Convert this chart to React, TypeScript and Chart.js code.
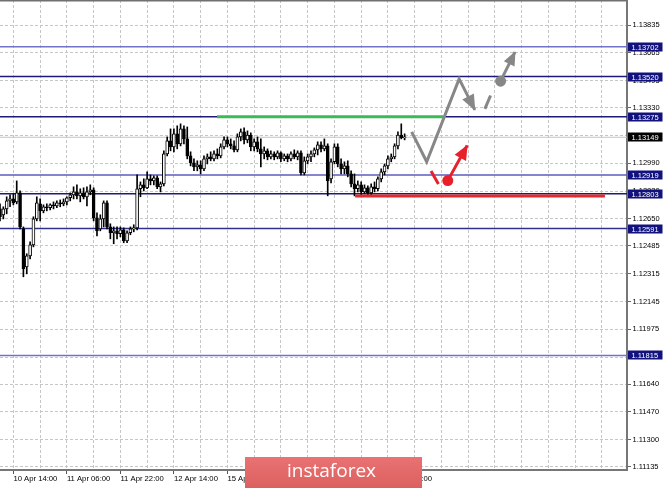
import React, { useEffect, useRef } from 'react';
import { Chart, registerables } from 'chart.js';

Chart.register(...registerables);

// ---- Candles (H1), oldest first ----
const OPEN = [
  1.12711, 1.12675, 1.12711, 1.1276, 1.12772, 1.12754, 1.12809, 1.12589, 1.12357, 1.12424,
  1.12491, 1.1265, 1.12742, 1.12699, 1.12724, 1.12718, 1.12736, 1.1273, 1.12748, 1.12742,
  1.12754, 1.12779, 1.12797, 1.12815, 1.12791, 1.12809, 1.12785, 1.12815, 1.12827, 1.12656,
  1.12589, 1.1265, 1.12748, 1.12601, 1.12565, 1.12577, 1.12559, 1.12583, 1.12516, 1.12565,
  1.12589, 1.12595, 1.12834, 1.12858, 1.1284, 1.12895, 1.12882, 1.12901, 1.12846, 1.12864,
  1.13047, 1.13127, 1.1309, 1.1317, 1.13109, 1.132, 1.13139, 1.13035, 1.12992, 1.12968,
  1.1298, 1.12956, 1.13017, 1.13029, 1.13017, 1.13047, 1.13035, 1.1309, 1.13133, 1.13109,
  1.13096, 1.13072, 1.13151, 1.13182, 1.13133, 1.13163, 1.1309, 1.13121, 1.13078, 1.13047,
  1.13066, 1.13029, 1.13047, 1.13029, 1.13054, 1.13017, 1.13035, 1.13017, 1.13047, 1.13029,
  1.13054, 1.12931, 1.13005, 1.13029, 1.13047, 1.13072, 1.13102, 1.13078, 1.13096, 1.12895,
  1.12999, 1.1309, 1.12986, 1.12956, 1.12974, 1.12925, 1.12864, 1.12834, 1.12858, 1.12815,
  1.1284, 1.12809, 1.12846, 1.12834, 1.12895, 1.12937, 1.12974, 1.13017, 1.13029, 1.13096,
  1.13163, 1.13145,
];
const HIGH = [
  1.12742, 1.12724, 1.12785, 1.12797, 1.12803, 1.12882, 1.12821, 1.12601, 1.12437, 1.1251,
  1.12663, 1.12785, 1.12772, 1.12736, 1.12742, 1.12742, 1.12754, 1.1276, 1.12766, 1.12772,
  1.12785, 1.12809, 1.12846, 1.12858, 1.12834, 1.1284, 1.12846, 1.12858, 1.1284, 1.12687,
  1.12675, 1.1276, 1.1276, 1.1262, 1.12601, 1.12601, 1.12601, 1.12595, 1.12577, 1.12601,
  1.12614, 1.12919, 1.12876, 1.12895, 1.12937, 1.12919, 1.12913, 1.12913, 1.12876, 1.13066,
  1.13151, 1.132, 1.132, 1.13219, 1.13231, 1.13219, 1.13212, 1.1306, 1.13017, 1.13005,
  1.13005, 1.13035, 1.13047, 1.1306, 1.13066, 1.13078, 1.13109, 1.13151, 1.13151, 1.13139,
  1.13127, 1.1317, 1.132, 1.13206, 1.13188, 1.13176, 1.13139, 1.13151, 1.13139, 1.1309,
  1.13078, 1.13066, 1.1306, 1.13066, 1.1306, 1.13047, 1.13047, 1.1306, 1.13072, 1.13066,
  1.13066, 1.13029, 1.13047, 1.13066, 1.13084, 1.13121, 1.13121, 1.13139, 1.13109, 1.13017,
  1.13109, 1.13109, 1.13017, 1.12999, 1.13005, 1.12944, 1.12925, 1.12882, 1.12876, 1.12858,
  1.12852, 1.12864, 1.12876, 1.12907, 1.12956, 1.12986, 1.13035, 1.13047, 1.13109, 1.13182,
  1.13231, 1.1317,
];
const LOW = [
  1.12638, 1.1265, 1.12681, 1.12724, 1.12736, 1.12742, 1.12589, 1.12296, 1.12314, 1.12406,
  1.12479, 1.12638, 1.12638, 1.12687, 1.12699, 1.12705, 1.12711, 1.12718, 1.12724, 1.1273,
  1.12736, 1.1276, 1.12772, 1.12772, 1.12754, 1.12772, 1.1273, 1.12797, 1.12638, 1.12546,
  1.12577, 1.12601, 1.12589, 1.12528, 1.12498, 1.12528, 1.1254, 1.12504, 1.12504, 1.12553,
  1.12571, 1.12583, 1.12785, 1.12821, 1.12834, 1.12858, 1.12858, 1.12834, 1.12815, 1.12852,
  1.13035, 1.13066, 1.1306, 1.13078, 1.13096, 1.13109, 1.13017, 1.12974, 1.12944, 1.12944,
  1.12925, 1.12944, 1.12986, 1.13005, 1.13005, 1.13017, 1.13023, 1.13078, 1.1309, 1.13078,
  1.1306, 1.1306, 1.13127, 1.13109, 1.13115, 1.13066, 1.13066, 1.1306, 1.12968, 1.13017,
  1.13011, 1.13017, 1.13011, 1.13017, 1.12999, 1.13005, 1.12999, 1.13005, 1.13017, 1.13011,
  1.12919, 1.12919, 1.12986, 1.12999, 1.13029, 1.13041, 1.1306, 1.13066, 1.12791, 1.1287,
  1.12986, 1.12968, 1.12925, 1.12925, 1.12907, 1.12846, 1.12791, 1.12815, 1.12797, 1.12803,
  1.12797, 1.12797, 1.12815, 1.12821, 1.12876, 1.12919, 1.12956, 1.12999, 1.13017, 1.13078,
  1.13139, 1.13133,
];
const CLOSE = [
  1.12663, 1.12711, 1.1276, 1.12772, 1.12748, 1.12809, 1.12601, 1.12345, 1.12424, 1.12491,
  1.1265, 1.12748, 1.12699, 1.12724, 1.12718, 1.12736, 1.1273, 1.12748, 1.12742, 1.12754,
  1.12779, 1.12797, 1.12815, 1.12791, 1.12809, 1.12785, 1.12815, 1.12827, 1.12656, 1.12577,
  1.1265, 1.12748, 1.12601, 1.12565, 1.12577, 1.12559, 1.12583, 1.12516, 1.12565, 1.12589,
  1.12595, 1.12834, 1.12858, 1.1284, 1.12895, 1.12882, 1.12901, 1.12846, 1.12864, 1.13047,
  1.13127, 1.1309, 1.1317, 1.13109, 1.132, 1.13139, 1.13035, 1.12992, 1.12968, 1.1298,
  1.12956, 1.13017, 1.13029, 1.13017, 1.13047, 1.13035, 1.1309, 1.13133, 1.13109, 1.13096,
  1.13072, 1.13151, 1.13182, 1.13133, 1.13163, 1.1309, 1.13121, 1.13078, 1.13047, 1.13066,
  1.13029, 1.13047, 1.13029, 1.13054, 1.13017, 1.13035, 1.13017, 1.13047, 1.13029, 1.13054,
  1.12931, 1.13005, 1.13029, 1.13047, 1.13072, 1.13102, 1.13078, 1.13096, 1.12882, 1.12999,
  1.1309, 1.12986, 1.12956, 1.12974, 1.12925, 1.12864, 1.12834, 1.12858, 1.12815, 1.1284,
  1.12809, 1.12846, 1.12834, 1.12895, 1.12937, 1.12974, 1.13017, 1.13029, 1.13096, 1.13163,
  1.13145, 1.13149,
];

// ---- Axes ----
const Y_TICKS = [
  1.13835, 1.13665, 1.13495, 1.1333, 1.1316, 1.1299, 1.1282, 1.1265, 1.12485,
  1.12315, 1.12145, 1.11975, 1.11805, 1.1164, 1.1147, 1.113, 1.11135,
];
const X_GRID_START = 4;
const X_GRID_STEP = 8;
const X_GRID_COUNT = 23;
const X_LABEL_BARS = [4, 20, 36, 52, 68, 84, 100, 116];
const X_LABELS = [
  '10 Apr 14:00', '11 Apr 06:00', '11 Apr 22:00', '12 Apr 14:00',
  '15 Apr 06:00', '15 Apr 22:00', '16 Apr 14:00', '17 Apr 06:00',
];
const X_MIN = 0;
const X_MAX = 187.5;
const Y_MIN = 1.11115;
const Y_MAX = 1.13988;

// ---- Levels ----
const LEVELS = [1.13702, 1.1352, 1.13275, 1.12919, 1.12803, 1.12591, 1.11815];
const LEVEL_COLORS = ['#7272c8', '#1c1c78', '#1c1c78', '#5c5cbc', '#1c1c78', '#30308e', '#7272c8'];
const CURRENT_PRICE = 1.13149;

// ---- Forecast annotations (bar index, price) ----
const GREEN_X = [64.9, 132.5];
const GREEN_Y = [1.13275, 1.13275];
const REDLINE_X = [106.2, 180.9];
const REDLINE_Y = [1.1279, 1.1279];
const GRAY_PATH_X = [123.1, 127.6, 137.3, 142.0];
const GRAY_PATH_Y = [1.13182, 1.12999, 1.13506, 1.13316];
const GRAY_DASH_X = [145.0, 146.7];
const GRAY_DASH_Y = [1.13322, 1.13404];
const GRAY_ARROW_X = [149.7, 154.0];
const GRAY_ARROW_Y = [1.13492, 1.13669];
const RED_DASH_X = [128.9, 131.1];
const RED_DASH_Y = [1.12942, 1.12864];
const RED_ARROW_X = [133.9, 139.7];
const RED_ARROW_Y = [1.12884, 1.13098];

const BANNER_TEXT = 'instaforex';

const GRAY = '#878787';
const RED = '#e8202c';

export default function App() {
  const ref = useRef<HTMLCanvasElement>(null);

  useEffect(() => {
    const canvas = ref.current;
    if (!canvas) return;

    const pts = (xs: number[], ys: number[]) => xs.map((x, i) => ({ x, y: ys[i] }));
    const lineDs = (xs: number[], ys: number[], color: string, width: number, order: number) => ({
      type: 'line' as const,
      data: pts(xs, ys),
      borderColor: color,
      borderWidth: width,
      pointRadius: 0,
      borderCapStyle: 'butt',
      tension: 0,
      fill: false,
      order,
    });

    const datasets: any[] = [];
    LEVELS.forEach((lv, i) => {
      datasets.push(lineDs([X_MIN, X_MAX], [lv, lv], LEVEL_COLORS[i], 1.5, 6));
    });
    datasets.push(lineDs([X_MIN, X_MAX], [CURRENT_PRICE, CURRENT_PRICE], '#c4c4c4', 1, 5));

    const bars = OPEN.map((_, i) => i);
    datasets.push({
      type: 'bar',
      data: bars.map((x, i) => ({ x, y: [LOW[i], HIGH[i]] })),
      backgroundColor: '#000',
      borderWidth: 0,
      barThickness: 1,
      grouped: false,
      order: 3,
    });
    datasets.push({
      type: 'bar',
      data: bars.map((x, i) => ({ x, y: [OPEN[i], CLOSE[i]] })),
      backgroundColor: bars.map((i) => (CLOSE[i] >= OPEN[i] ? '#ffffff' : '#000000')),
      borderColor: '#000',
      borderWidth: 1,
      borderSkipped: false,
      barThickness: 3,
      minBarLength: 1,
      grouped: false,
      order: 2,
    });

    datasets.push(lineDs(GREEN_X, GREEN_Y, '#3dba55', 3, 1));
    datasets.push(lineDs(REDLINE_X, REDLINE_Y, '#e62a2a', 3, 1));
    datasets.push(lineDs(GRAY_PATH_X, GRAY_PATH_Y, GRAY, 3, 0));
    datasets.push(lineDs(GRAY_DASH_X, GRAY_DASH_Y, GRAY, 3, 0));
    datasets.push(lineDs(GRAY_ARROW_X, GRAY_ARROW_Y, GRAY, 3, 0));
    datasets.push(lineDs(RED_DASH_X, RED_DASH_Y, RED, 3, 0));
    datasets.push(lineDs(RED_ARROW_X, RED_ARROW_Y, RED, 3, 0));
    datasets.push({
      type: 'line',
      data: [{ x: GRAY_ARROW_X[0], y: GRAY_ARROW_Y[0] }],
      showLine: false,
      pointRadius: 5.5,
      pointBackgroundColor: GRAY,
      pointBorderWidth: 0,
      order: 0,
    });
    datasets.push({
      type: 'line',
      data: [{ x: RED_ARROW_X[0], y: RED_ARROW_Y[0] }],
      showLine: false,
      pointRadius: 5.5,
      pointBackgroundColor: RED,
      pointBorderWidth: 0,
      order: 0,
    });

    const head = (ctx: CanvasRenderingContext2D, x1: number, y1: number, x2: number, y2: number, color: string, L: number, W: number) => {
      const a = Math.atan2(y2 - y1, x2 - x1);
      const bx = x2 - L * Math.cos(a);
      const by = y2 - L * Math.sin(a);
      ctx.beginPath();
      ctx.moveTo(x2 + Math.cos(a), y2 + Math.sin(a));
      ctx.lineTo(bx + W * Math.sin(a), by - W * Math.cos(a));
      ctx.lineTo(bx - W * Math.sin(a), by + W * Math.cos(a));
      ctx.closePath();
      ctx.fillStyle = color;
      ctx.fill();
    };

    const overlay = {
      id: 'overlay',
      afterDatasetsDraw(chart: any) {
        const { ctx, scales } = chart;
        const xs = scales.x;
        const ys = scales.y;
        const P = (x: number, y: number) => [xs.getPixelForValue(x), ys.getPixelForValue(y)];
        ctx.save();
        const n = GRAY_PATH_X.length;
        const [a1, b1] = P(GRAY_PATH_X[n - 2], GRAY_PATH_Y[n - 2]);
        const [a2, b2] = P(GRAY_PATH_X[n - 1], GRAY_PATH_Y[n - 1]);
        head(ctx, a1, b1, a2, b2, GRAY, 15, 6.5);
        const [c1, d1] = P(GRAY_ARROW_X[0], GRAY_ARROW_Y[0]);
        const [c2, d2] = P(GRAY_ARROW_X[1], GRAY_ARROW_Y[1]);
        head(ctx, c1, d1, c2, d2, GRAY, 13, 6);
        const [e1, f1] = P(RED_ARROW_X[0], RED_ARROW_Y[0]);
        const [e2, f2] = P(RED_ARROW_X[1], RED_ARROW_Y[1]);
        head(ctx, e1, f1, e2, f2, RED, 14, 6.5);
        ctx.restore();
      },
      afterDraw(chart: any) {
        const { ctx, chartArea, scales } = chart;
        const ys = scales.y;
        ctx.save();
        // top frame
        ctx.strokeStyle = '#707070';
        ctx.lineWidth = 1.5;
        ctx.beginPath();
        ctx.moveTo(chartArea.left, 0.75);
        ctx.lineTo(chartArea.right, 0.75);
        ctx.stroke();
        // price boxes
        ctx.font = '7.5px "Liberation Sans", Arial, sans-serif';
        ctx.textBaseline = 'middle';
        ctx.textAlign = 'left';
        const box = (v: number, bg: string) => {
          const y = ys.getPixelForValue(v);
          ctx.fillStyle = bg;
          ctx.fillRect(chartArea.right + 1, Math.round(y) - 4.5, 34.5, 9);
          ctx.fillStyle = '#ffffff';
          ctx.fillText(v.toFixed(5), chartArea.right + 4.5, Math.round(y) + 0.5);
        };
        LEVELS.forEach((lv) => box(lv, '#12127e'));
        box(CURRENT_PRICE, '#000000');
        // banner
        const bx = 245, by = 457, bw = 177, bh = 31;
        const g = ctx.createLinearGradient(0, by, 0, by + bh);
        g.addColorStop(0, '#ea7272');
        g.addColorStop(1, '#dc6060');
        ctx.fillStyle = g;
        ctx.fillRect(bx, by, bw, bh);
        ctx.fillStyle = '#ffffff';
        ctx.font = '19px "Open Sans", "Noto Sans", sans-serif';
        ctx.textAlign = 'center';
        ctx.textBaseline = 'middle';
        ctx.fillText(BANNER_TEXT, bx + bw / 2 - 2, by + bh / 2 - 1);
        ctx.restore();
      },
    };

    const xTickValues = Array.from({ length: X_GRID_COUNT }, (_, k) => X_GRID_START + k * X_GRID_STEP);

    const chart = new Chart(canvas, {
      type: 'bar',
      data: { datasets },
      options: {
        responsive: false,
        animation: false,
        devicePixelRatio: 1,
        events: [],
        layout: { padding: 0, autoPadding: false },
        plugins: { legend: { display: false }, tooltip: { enabled: false } },
        scales: {
          x: {
            type: 'linear',
            position: 'bottom',
            min: X_MIN,
            max: X_MAX,
            offset: false,
            afterBuildTicks: (s: any) => {
              s.ticks = xTickValues.map((v) => ({ value: v }));
            },
            afterFit: (s: any) => {
              s.height = 18;
              s.paddingLeft = 0;
              s.paddingRight = 0;
            },
            grid: {
              offset: false,
              color: '#c6c6c6',
              lineWidth: 1,
              drawTicks: true,
              tickLength: 4,
              tickWidth: 1,
              tickBorderDash: [],
              tickColor: (c: any) => (X_LABEL_BARS.includes(c.tick?.value) ? '#555555' : 'rgba(0,0,0,0)'),
            },
            border: { display: true, color: '#777777', width: 2, dash: [3, 2] },
            ticks: {
              autoSkip: false,
              maxRotation: 0,
              minRotation: 0,
              align: 'start',
              padding: 0,
              color: '#000',
              font: { family: '"Liberation Sans", Arial, sans-serif', size: 7.7 },
              callback: (v: any) => {
                const k = X_LABEL_BARS.indexOf(Number(v));
                return k >= 0 ? X_LABELS[k] : '';
              },
            },
          },
          y: {
            type: 'linear',
            position: 'right',
            min: Y_MIN,
            max: Y_MAX,
            beginAtZero: false,
            afterBuildTicks: (s: any) => {
              s.ticks = Y_TICKS.map((v) => ({ value: v }));
            },
            afterFit: (s: any) => {
              s.width = 38;
              s.paddingTop = 0;
              s.paddingBottom = 0;
            },
            grid: {
              color: '#c6c6c6',
              lineWidth: 1,
              drawTicks: true,
              tickLength: 4,
              tickWidth: 1,
              tickBorderDash: [],
              tickColor: '#666666',
            },
            border: { display: true, color: '#777777', width: 2, dash: [3, 2] },
            ticks: {
              autoSkip: false,
              padding: 1.5,
              color: '#000',
              font: { family: '"Liberation Sans", Arial, sans-serif', size: 7.5 },
              callback: (v: any) => Number(v).toFixed(5),
            },
          },
        },
      } as any,
      plugins: [overlay],
    } as any);

    return () => chart.destroy();
  }, []);

  return (
    <div style={{ position: 'fixed', left: 0, top: 0, width: 665, height: 488, background: '#ffffff' }}>
      <canvas ref={ref} width={665} height={488} style={{ display: 'block', width: 665, height: 488 }} />
    </div>
  );
}
